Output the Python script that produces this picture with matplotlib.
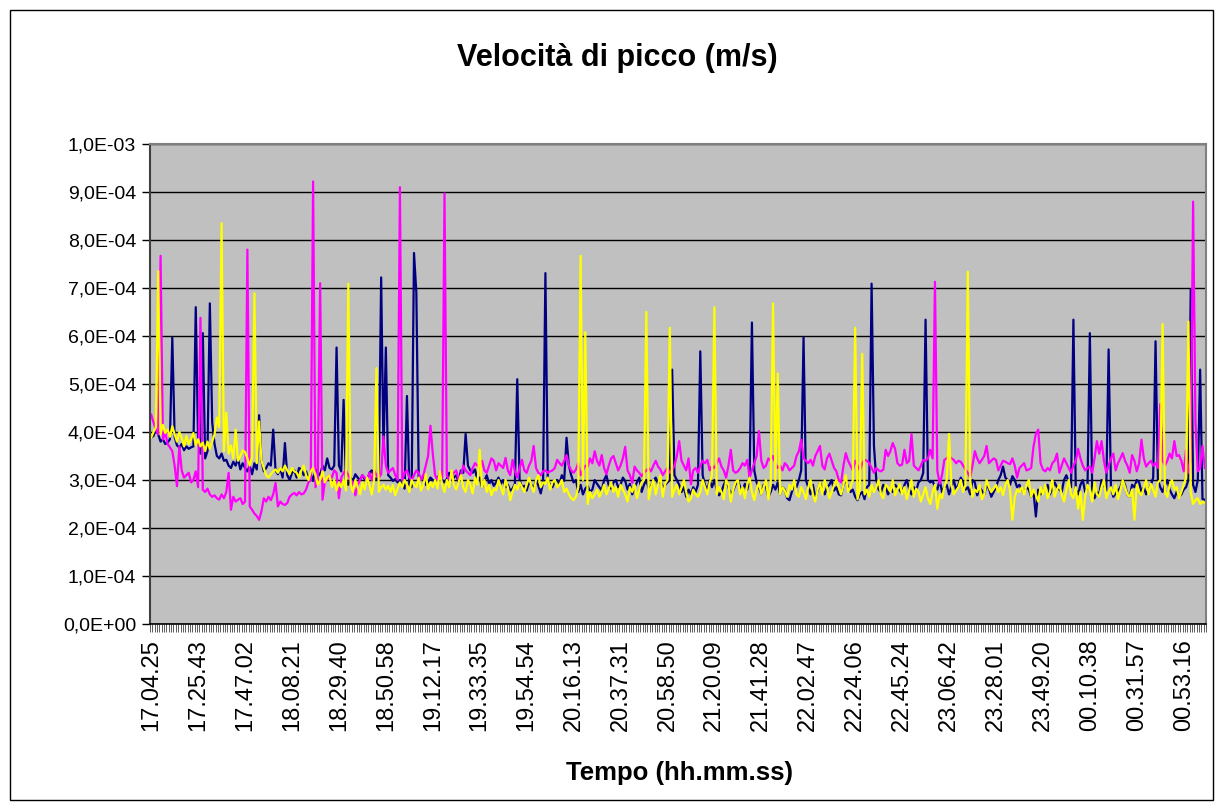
import numpy as np
import matplotlib
matplotlib.use("Agg")
import matplotlib.pyplot as plt
from matplotlib.patches import Rectangle
from matplotlib.ticker import FixedLocator, FuncFormatter

plt.rcParams['font.family'] = ['Liberation Sans', 'DejaVu Sans']

# valori, in unita' di 1e-6 m/s (una misura ogni ~64 s)
navy = [
    388, 392, 405, 395, 380, 385, 375, 378, 385, 597,
    390, 372, 368, 375, 362, 370, 365, 368, 370, 660,
    380, 355, 606, 345, 360, 668, 420, 375, 350, 345,
    355, 340, 342, 330, 325, 338, 330, 345, 322, 335,
    325, 318, 330, 312, 335, 322, 435, 340, 318, 325,
    335, 330, 405, 320, 312, 325, 305, 377, 310, 300,
    315, 320, 305, 325, 322, 310, 318, 302, 312, 298,
    322, 315, 310, 330, 320, 345, 325, 322, 330, 576,
    330, 318, 467, 300, 290, 305, 298, 312, 305, 300,
    310, 302, 296, 315, 320, 305, 300, 310, 722, 360,
    576, 310, 305, 298, 302, 295, 300, 290, 282, 475,
    290, 285, 773, 690, 305, 300, 310, 290, 295, 305,
    300, 296, 305, 310, 300, 295, 302, 315, 300, 305,
    310, 296, 320, 315, 396, 330, 320, 315, 322, 300,
    305, 285, 298, 310, 292, 300, 288, 295, 305, 292,
    300, 285, 290, 278, 282, 292, 510, 300, 285, 288,
    278, 295, 290, 282, 300, 288, 272, 295, 731, 300,
    290, 285, 298, 300, 292, 310, 298, 388, 330, 310,
    295, 300, 275, 290, 270, 282, 288, 275, 280, 300,
    292, 285, 278, 300, 310, 288, 282, 295, 300, 285,
    290, 305, 298, 280, 292, 270, 285, 295, 305, 275,
    290, 300, 282, 288, 298, 305, 292, 300, 285, 290,
    295, 300, 530, 310, 300, 290, 275, 285, 265, 280,
    270, 285, 275, 290, 568, 310, 290, 278, 300, 285,
    300, 280, 268, 275, 290, 300, 285, 270, 278, 290,
    300, 285, 278, 292, 280, 300, 628, 320, 295, 285,
    270, 290, 285, 265, 275, 290, 280, 295, 270, 285,
    280, 262, 258, 275, 290, 285, 300, 320, 597, 300,
    285, 270, 290, 262, 278, 295, 280, 270, 285, 290,
    300, 278, 285, 270, 268, 290, 300, 285, 275, 280,
    265, 258, 270, 275, 260, 285, 290, 709, 371, 300,
    280, 275, 290, 285, 270, 280, 275, 290, 285, 278,
    272, 290, 300, 282, 270, 285, 278, 295, 300, 315,
    634, 300, 295, 298, 285, 280, 300, 275, 285, 290,
    270, 285, 300, 280, 290, 305, 295, 280, 285, 270,
    300, 295, 268, 285, 278, 270, 290, 282, 265, 275,
    285, 300, 310, 328, 305, 300, 290, 308, 300, 285,
    290, 280, 275, 285, 280, 265, 275, 224, 280, 270,
    275, 285, 290, 270, 282, 295, 285, 280, 275, 300,
    310, 295, 285, 634, 280, 270, 290, 300, 275, 285,
    606, 280, 262, 275, 270, 300, 290, 278, 572, 285,
    265, 272, 278, 285, 300, 290, 270, 265, 290, 285,
    300, 295, 275, 285, 270, 280, 290, 305, 589, 300,
    285, 275, 290, 300, 280, 270, 262, 275, 265, 270,
    280, 285, 300, 697, 290, 275, 300, 530, 260, 259,
]

magenta = [
    436, 420, 405, 395, 767, 384, 400, 375, 368, 360,
    330, 287, 370, 320, 305, 310, 315, 295, 300, 318,
    285, 638, 280, 275, 282, 270, 265, 268, 262, 259,
    270, 262, 275, 315, 238, 265, 255, 259, 262, 250,
    255, 780, 245, 238, 230, 225, 217, 235, 262, 255,
    265, 258, 270, 294, 245, 255, 250, 248, 252, 265,
    270, 273, 268, 275, 270, 272, 280, 295, 300, 922,
    285, 300, 710, 259, 295, 300, 310, 305, 320, 315,
    262, 305, 315, 320, 310, 300, 295, 268, 290, 300,
    310, 305, 298, 315, 300, 320, 310, 305, 312, 391,
    330, 315, 320, 325, 310, 300, 910, 300, 315, 320,
    305, 300, 310, 320, 315, 300, 310, 330, 350, 413,
    355, 310, 300, 315, 305, 897, 310, 300, 305, 315,
    320, 300, 310, 330, 320, 315, 310, 325, 335, 330,
    325, 340, 320, 315, 330, 345, 340, 320, 335, 330,
    325, 346, 320, 310, 342, 318, 305, 325, 342, 320,
    315, 330, 340, 371, 325, 315, 310, 318, 320, 315,
    318, 320, 325, 342, 335, 330, 340, 352, 330, 320,
    315, 322, 335, 310, 320, 330, 328, 345, 335, 360,
    340, 330, 352, 325, 312, 330, 345, 350, 335, 320,
    330, 345, 369, 320, 310, 294, 328, 320, 315, 308,
    315, 320, 325, 318, 330, 340, 328, 322, 310, 318,
    325, 315, 320, 330, 350, 381, 340, 330, 320, 345,
    291, 320, 325, 315, 330, 340, 335, 342, 320, 330,
    325, 335, 345, 328, 320, 305, 330, 363, 320, 315,
    318, 325, 335, 330, 342, 305, 320, 335, 350, 402,
    340, 325, 330, 345, 340, 350, 335, 325, 330, 320,
    335, 330, 320, 325, 330, 350, 360, 384, 345, 340,
    335, 342, 330, 350, 360, 371, 330, 322, 345, 355,
    340, 325, 318, 300, 295, 330, 356, 340, 330, 320,
    340, 330, 320, 335, 342, 340, 335, 325, 315, 325,
    320, 318, 322, 363, 350, 360, 377, 365, 335, 330,
    332, 363, 335, 340, 396, 330, 325, 320, 330, 342,
    340, 345, 363, 345, 713, 320, 292, 310, 342, 345,
    351, 345, 342, 335, 340, 338, 330, 322, 315, 305,
    330, 360, 345, 335, 342, 350, 371, 335, 340, 345,
    342, 320, 330, 340, 338, 335, 333, 345, 330, 305,
    325, 330, 335, 320, 322, 325, 370, 396, 405, 335,
    322, 318, 325, 320, 335, 340, 355, 315, 330, 345,
    335, 325, 315, 330, 340, 365, 345, 330, 320, 325,
    328, 315, 345, 381, 355, 381, 340, 315, 330, 345,
    355, 320, 335, 345, 356, 340, 330, 315, 352, 340,
    318, 335, 384, 345, 328, 335, 340, 330, 335, 325,
    458, 340, 330, 340, 355, 345, 381, 350, 352, 340,
    318, 363, 315, 340, 880, 422, 318, 325, 371, 325,
]

yellow = [
    388, 400, 410, 735, 395, 415, 398, 405, 390, 412,
    395, 380, 400, 388, 370, 392, 375, 385, 398, 372,
    385, 370, 378, 360, 380, 365, 380, 395, 430, 410,
    835, 360, 440, 355, 372, 345, 405, 340, 350, 362,
    358, 345, 330, 348, 689, 335, 422, 340, 325, 310,
    305, 312, 318, 322, 315, 325, 318, 330, 320, 312,
    325, 318, 315, 305, 320, 330, 310, 300, 318, 325,
    310, 290, 300, 318, 295, 305, 310, 285, 300, 278,
    295, 285, 300, 278, 709, 290, 275, 300, 285, 270,
    295, 280, 305, 290, 270, 300, 533, 275, 285, 290,
    280, 288, 275, 290, 268, 282, 295, 285, 300, 290,
    275, 300, 290, 285, 305, 278, 290, 312, 280, 295,
    285, 300, 282, 318, 290, 275, 300, 285, 320, 290,
    280, 295, 310, 285, 275, 300, 290, 272, 305, 290,
    363, 285, 300, 275, 290, 268, 282, 278, 300, 285,
    270, 300, 285, 258, 275, 290, 280, 295, 285, 275,
    290, 305, 288, 275, 300, 310, 285, 295, 292, 305,
    280, 295, 300, 285, 290, 300, 275, 282, 270, 262,
    258, 265, 285, 767, 300, 608, 250, 275, 262, 270,
    280, 265, 275, 290, 270, 282, 295, 275, 285, 265,
    290, 280, 270, 255, 285, 275, 290, 262, 280, 295,
    300, 650, 260, 285, 300, 270, 290, 310, 265, 292,
    300, 617, 265, 280, 290, 270, 285, 300, 275, 255,
    262, 280, 270, 265, 275, 300, 285, 270, 295, 310,
    660, 270, 285, 275, 260, 300, 290, 255, 280, 295,
    300, 270, 285, 262, 290, 305, 275, 258, 280, 295,
    270, 285, 300, 260, 290, 668, 300, 522, 270, 285,
    278, 265, 290, 280, 300, 270, 265, 285, 275, 260,
    285, 300, 270, 255, 280, 295, 270, 300, 285, 262,
    275, 290, 300, 285, 270, 290, 310, 275, 285, 300,
    617, 260, 282, 563, 270, 280, 265, 290, 275, 285,
    300, 270, 262, 290, 285, 275, 300, 268, 280, 292,
    270, 285, 260, 278, 300, 265, 282, 275, 255, 270,
    285, 262, 250, 275, 290, 240, 270, 262, 285, 300,
    396, 290, 270, 278, 285, 300, 275, 290, 734, 300,
    265, 280, 275, 290, 260, 270, 300, 285, 275, 282,
    290, 275, 285, 268, 290, 300, 278, 217, 265, 280,
    275, 285, 270, 290, 300, 265, 280, 270, 255, 285,
    270, 290, 262, 275, 300, 265, 280, 290, 270, 255,
    280, 300, 270, 262, 285, 240, 275, 217, 265, 290,
    280, 255, 295, 270, 265, 285, 300, 262, 275, 285,
    270, 290, 260, 278, 300, 285, 270, 265, 280, 217,
    290, 275, 268, 285, 300, 270, 292, 280, 265, 295,
    300, 625, 275, 265, 290, 300, 280, 285, 262, 275,
    290, 305, 630, 275, 250, 258, 262, 250, 255, 252,
]

# etichette dell'asse dei tempi (una ogni 20 misure)
tick_labels = ["17.04.25", "17.25.43", "17.47.02", "18.08.21", "18.29.40",
               "18.50.58", "19.12.17", "19.33.35", "19.54.54", "20.16.13",
               "20.37.31", "20.58.50", "21.20.09", "21.41.28", "22.02.47",
               "22.24.06", "22.45.24", "23.06.42", "23.28.01", "23.49.20",
               "00.10.38", "00.31.57", "00.53.16"]
label_step = 20

n = len(navy)
x = np.arange(n)

fig = plt.figure(figsize=(12.23, 8.10), dpi=100)
fig.patch.set_facecolor("white")
fig.patches.append(Rectangle((10 / 1223, 10 / 810), 1203 / 1223, 790 / 810,
                             transform=fig.transFigure, fill=False,
                             edgecolor="black", linewidth=1.0))

ax = fig.add_axes([150 / 1223, 1 - 624 / 810, 1056 / 1223, 480 / 810])
ax.set_facecolor("#C0C0C0")

ax.plot(x, np.array(navy) * 1e-6, color="#000080", lw=1.6)
ax.plot(x, np.array(magenta) * 1e-6, color="#FF00FF", lw=1.6)
ax.plot(x, np.array(yellow) * 1e-6, color="#FFFF00", lw=1.6)

ax.set_xlim(-0.5, n - 0.5)
ax.set_ylim(0, 1e-3)

yt = np.arange(0, 11) * 1e-4
ax.set_yticks(yt)
ax.yaxis.set_major_formatter(FuncFormatter(lambda v, p: f"{v:.1E}".replace(".", ",")))
ax.grid(axis="y", color="black", lw=1.0)
ax.set_axisbelow(True)

pos = np.arange(len(tick_labels)) * label_step
ax.set_xticks(pos)
ax.set_xticklabels(tick_labels, rotation=90)
ax.xaxis.set_minor_locator(FixedLocator(np.arange(n + 1) - 0.5))
ax.tick_params(axis="x", which="major", length=0, pad=11, labelsize=17)
ax.tick_params(axis="x", which="minor", length=6, width=0.6, color="#404040")
ax.tick_params(axis="y", length=6, width=1.0, labelsize=14, pad=4)

for s in ["top", "right"]:
    ax.spines[s].set_color("#808080")
    ax.spines[s].set_linewidth(1.5)
ax.spines["left"].set_color("#404040")
ax.spines["left"].set_linewidth(1.5)
ax.spines["bottom"].set_color("black")
ax.spines["bottom"].set_linewidth(1.2)

fig.text(0.505, 1 - 58 / 810, "Velocità di picco (m/s)", ha="center", va="center",
         fontsize=22, fontweight="bold")
fig.text(679 / 1223, 1 - 773 / 810, "Tempo (hh.mm.ss)", ha="center", va="center",
         fontsize=18.5, fontweight="bold")

fig.savefig("out.png", dpi=100)
